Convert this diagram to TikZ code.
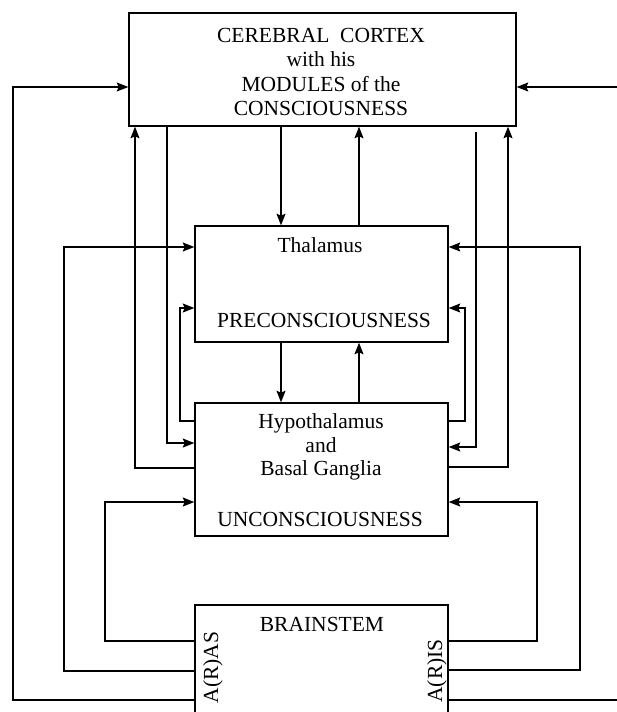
\documentclass[tikz,border=0pt]{standalone}
\usepackage{fontspec}
\setmainfont{Liberation Serif}
\usetikzlibrary{arrows.meta}
\begin{document}
\begin{tikzpicture}[x=1pt,y=-1pt,line width=1.4pt,
  arr/.style={-{Stealth[length=11.5pt,width=9pt,inset=1.8pt]}},
  box/.style={draw,rectangle,inner sep=0pt,fill=white},
  txt/.style={font=\fontsize{21.5}{24}\selectfont,inner sep=0pt,anchor=base}]
\useasboundingbox (0,0) rectangle (616,712);
\fill[white] (0,0) rectangle (616,712);

% boxes
\node[box,minimum width=387pt,minimum height=113pt] (cortex) at (322.5,69.5) {};
\node[box,minimum width=253pt,minimum height=116pt] (thal) at (321.5,284) {};
\node[box,minimum width=253pt,minimum height=133pt] (hypo) at (321.5,469.5) {};
\node[box,minimum width=253pt,minimum height=130pt] (bs) at (321.5,670) {};

% texts
\node[txt] (t1) at (321,42) {CEREBRAL\enspace CORTEX};
\node[txt] (t2) at (321,66.5) {with his};
\node[txt] (t3) at (321,91.5) {MODULES of the};
\node[txt] (t4) at (321,115.5) {CONSCIOUSNESS};
\node[txt] (t5) at (320,252) {Thalamus};
\node[txt] (t6) at (324,327) {PRECONSCIOUSNESS};
\node[txt] (t7) at (321,428) {Hypothalamus};
\node[txt] (t8) at (321,452) {and};
\node[txt] (t9) at (321,475.5) {Basal Ganglia};
\node[txt] (t10) at (320,526) {UNCONSCIOUSNESS};
\node[txt] (t11) at (322,631) {BRAINSTEM};
\node[txt,anchor=center,rotate=90] (t12) at (213,667.5) {A(R)AS};
\node[txt,anchor=center,rotate=90] (t13) at (437,671) {A(R)IS};

% cortex <-> thalamus
\draw[arr] (cortex.south -| 281,0) -- (thal.north -| 281,0);
\draw[arr] (thal.north -| 359,0) -- (cortex.south -| 359,0);
% thalamus <-> hypothalamus
\draw[arr] (thal.south -| 281,0) -- (hypo.north -| 281,0);
\draw[arr] (hypo.north -| 359,0) -- (thal.south -| 359,0);
% hypothalamus -> thalamus side loops
\draw[arr] (hypo.west |- 0,421) -| (180,308) -- (thal.west |- 0,308);
\draw[arr] (hypo.east |- 0,421) -| (465,308) -- (thal.east |- 0,308);
% cortex <-> hypothalamus
\draw[arr] (cortex.south -| 167,0) |- (hypo.west |- 0,443);
\draw[arr] (hypo.west |- 0,468) -| (cortex.south -| 135,0);
\draw[arr] ([yshift=-5pt]cortex.south -| 476,0) |- (hypo.east |- 0,447);
\draw[arr] (hypo.east |- 0,467) -| (cortex.south -| 508,0);
% brainstem -> hypothalamus
\draw[arr] (bs.west |- 0,641) -| (105,502) -- (hypo.west |- 0,502);
\draw[arr] (bs.east |- 0,641) -| (537,502) -- (hypo.east |- 0,502);
% brainstem -> thalamus
\draw[arr] (bs.west |- 0,671) -| (64,247) -- (thal.west |- 0,247);
\draw[arr] (bs.east |- 0,670) -| (580,247) -- (thal.east |- 0,247);
% brainstem -> cortex
\draw[arr] (bs.west |- 0,700) -| (13,87) -- (cortex.west |- 0,87);
\draw[arr] (bs.east |- 0,700) -| (620,87) -- (cortex.east |- 0,87);
\end{tikzpicture}
\end{document}
